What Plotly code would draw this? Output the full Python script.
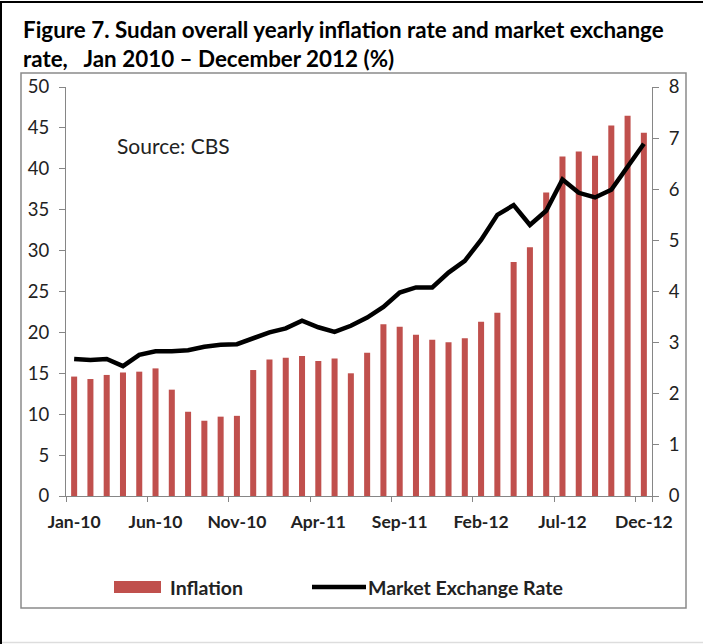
import plotly.graph_objects as go

# Monthly series, Jan 2010 - Dec 2012
months = [f"{m}-{y}" for y in ("10", "11", "12")
          for m in ("Jan", "Feb", "Mar", "Apr", "May", "Jun",
                    "Jul", "Aug", "Sep", "Oct", "Nov", "Dec")]

inflation = [14.6, 14.3, 14.8, 15.1, 15.2, 15.6, 13.0, 10.3, 9.2, 9.7, 9.8, 15.4,
             16.7, 16.9, 17.1, 16.5, 16.8, 15.0, 17.5, 21.0, 20.7, 19.7, 19.1, 18.8,
             19.3, 21.3, 22.4, 28.6, 30.4, 37.1, 41.5, 42.1, 41.6, 45.3, 46.5, 44.4]

exchange_rate = [2.68, 2.66, 2.68, 2.54, 2.76, 2.83, 2.83, 2.85, 2.92, 2.96, 2.97, 3.09,
                 3.20, 3.28, 3.43, 3.30, 3.21, 3.33, 3.49, 3.70, 3.98, 4.08, 4.08, 4.37,
                 4.60, 5.01, 5.50, 5.69, 5.30, 5.58, 6.19, 5.93, 5.84, 5.99, 6.44, 6.89]

tick_months = months[::5]  # Jan-10, Jun-10, Nov-10, ...

BAR_RED = "#C0504D"
AXIS_GRAY = "#868686"
FONT = "Lato"

W, H = 703, 644
L, R, T, B = 66, 51, 87, 148

fig = go.Figure()
fig.add_trace(go.Bar(x=months, y=inflation, name="Inflation",
                     marker=dict(color=BAR_RED, line=dict(width=0)),
                     width=0.37, yaxis="y"))
fig.add_trace(go.Scatter(x=months, y=exchange_rate, name="Market Exchange Rate",
                         mode="lines", line=dict(color="black", width=4.5),
                         yaxis="y2"))

fig.update_layout(
    width=W, height=H,
    margin=dict(l=L, r=R, t=T, b=B),
    paper_bgcolor="white", plot_bgcolor="white",
    showlegend=False,
    font=dict(family=FONT, color="#222"),
    xaxis=dict(type="category", categoryorder="array", categoryarray=months,
               tickvals=tick_months, ticktext=tick_months, tickangle=0,
               tickson="boundaries", ticks="outside", ticklen=5,
               tickcolor=AXIS_GRAY, showline=True, linecolor=AXIS_GRAY,
               linewidth=1.3, showgrid=False, range=[-0.5, 35.5],
               ticklabelstandoff=10,
               tickfont=dict(size=17.5, family=FONT, weight="bold", color="#222")),
    yaxis=dict(range=[0, 50], dtick=5, ticks="outside", ticklen=6,
               tickcolor=AXIS_GRAY, showline=True, linecolor=AXIS_GRAY,
               linewidth=1.3, showgrid=False, zeroline=False,
               tickfont=dict(size=18.5, color="#222"), ticklabelstandoff=6),
    yaxis2=dict(range=[0, 8], dtick=1, overlaying="y", side="right",
                ticks="outside", ticklen=6, tickcolor=AXIS_GRAY, showline=True,
                linecolor=AXIS_GRAY, linewidth=1.3, showgrid=False,
                zeroline=False, tickfont=dict(size=18.5, color="#222"),
                ticklabelstandoff=6),
    bargap=0.6,
)


def px_x(px):
    return (px - L) / (W - L - R)


def px_y(py):
    return 1 - (py - T) / (H - T - B)


# Title
fig.add_annotation(text="<b>Figure 7. Sudan overall yearly inflation rate and market exchange</b>",
                   xref="paper", yref="paper", x=px_x(21), y=px_y(30),
                   xanchor="left", yanchor="middle", showarrow=False,
                   font=dict(size=22.4, family=FONT, color="black"))
fig.add_annotation(text="<b>rate,   Jan 2010 – December 2012 (%)</b>",
                   xref="paper", yref="paper", x=px_x(21), y=px_y(59),
                   xanchor="left", yanchor="middle", showarrow=False,
                   font=dict(size=22.4, family=FONT, color="black"))

# Source note
fig.add_annotation(text="Source: CBS", xref="paper", yref="paper",
                   x=px_x(115), y=px_y(145), xanchor="left", yanchor="middle",
                   showarrow=False, font=dict(size=21, family=FONT, color="#222"))

# Legend
leg_y = 587
fig.add_shape(type="rect", xref="paper", yref="paper",
              x0=px_x(114), x1=px_x(161), y0=px_y(leg_y - 6), y1=px_y(leg_y + 6),
              fillcolor=BAR_RED, line=dict(width=0))
fig.add_annotation(text="<b>Inflation</b>", xref="paper", yref="paper",
                   x=px_x(168), y=px_y(leg_y), xanchor="left", yanchor="middle",
                   showarrow=False, font=dict(size=19.5, family=FONT, color="#222"))
fig.add_shape(type="line", xref="paper", yref="paper",
              x0=px_x(312), x1=px_x(366), y0=px_y(leg_y), y1=px_y(leg_y),
              line=dict(color="black", width=4.5))
fig.add_annotation(text="<b>Market Exchange Rate</b>", xref="paper", yref="paper",
                   x=px_x(366), y=px_y(leg_y), xanchor="left", yanchor="middle",
                   showarrow=False, font=dict(size=19.5, family=FONT, color="#222"))

# Chart box and outer frame
fig.add_shape(type="rect", xref="paper", yref="paper",
              x0=px_x(21), x1=px_x(686), y0=px_y(608), y1=px_y(73),
              line=dict(color="#8a8a8a", width=1.5), fillcolor="rgba(0,0,0,0)",
              layer="below")
fig.add_shape(type="line", xref="paper", yref="paper",
              x0=px_x(1), x1=px_x(1), y0=px_y(2), y1=px_y(644),
              line=dict(color="black", width=2))
fig.add_shape(type="line", xref="paper", yref="paper",
              x0=px_x(0), x1=px_x(703), y0=px_y(2), y1=px_y(2),
              line=dict(color="black", width=2))
fig.add_shape(type="line", xref="paper", yref="paper",
              x0=px_x(2), x1=px_x(703), y0=px_y(642.5), y1=px_y(642.5),
              line=dict(color="#dddddd", width=1.5))

fig.write_html("out.html")
